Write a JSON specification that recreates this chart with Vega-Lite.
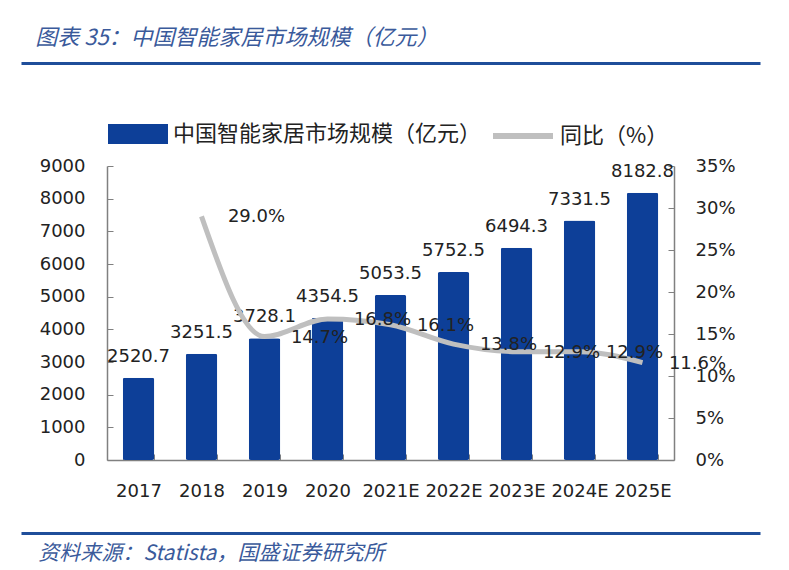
{
  "$schema": "https://vega.github.io/schema/vega-lite/v6.json",
  "background": "white",
  "padding": {"left": 18, "top": 27, "right": 0, "bottom": 6},
  "config": {"view": {"stroke": null}, "font": "DejaVu Sans"},
  "columns": 1,
  "align": "none",
  "bounds": "full",
  "spacing": 10,
  "resolve": {"scale": {"color": "independent", "stroke": "independent", "x": "independent"}, "legend": {"color": "independent", "stroke": "independent"}},
  "concat": [
    {
      "width": 739,
      "height": 30,
      "data": {"values": [{"v": 0}, {"v": 1}]},
      "mark": {"type": "point", "opacity": 0},
      "encoding": {
        "x": {"field": "v", "type": "quantitative", "axis": {"orient": "top", "domainColor": "#1F4E9A", "domainWidth": 3, "ticks": false, "labels": false, "grid": false, "title": null}}
      },
      "title": {"text": "图表 35：中国智能家居市场规模（亿元）", "anchor": "start", "dx": 17, "offset": 13, "font": "Noto Sans CJK SC", "fontSize": 22, "fontStyle": "italic", "fontWeight": "normal", "color": "#3A5A9B"}
    },
    {
      "spacing": 17,
      "resolve": {"scale": {"color": "independent", "stroke": "independent"}, "legend": {"color": "independent", "stroke": "independent"}},
      "hconcat": [
        {
          "width": 1,
          "height": 1,
          "data": {"values": []},
          "mark": "point"
        },
        {
          "width": 567,
          "height": 294,
          "data": {"values": [
            {"year": "2017", "size": 2520.7, "yoy": null},
            {"year": "2018", "size": 3251.5, "yoy": 0.290},
            {"year": "2019", "size": 3728.1, "yoy": 0.147},
            {"year": "2020", "size": 4354.5, "yoy": 0.168},
            {"year": "2021E", "size": 5053.5, "yoy": 0.161},
            {"year": "2022E", "size": 5752.5, "yoy": 0.138},
            {"year": "2023E", "size": 6494.3, "yoy": 0.129},
            {"year": "2024E", "size": 7331.5, "yoy": 0.129},
            {"year": "2025E", "size": 8182.8, "yoy": 0.116}
          ]},
          "encoding": {
            "x": {
              "field": "year", "type": "nominal", "sort": null,
              "scale": {"paddingInner": 0.5, "paddingOuter": 0.25},
              "axis": {"title": null, "labelAngle": 0, "tickBand": "extent", "tickSize": -6, "labelPadding": 28, "labelFontSize": 18, "labelColor": "#222222", "labelFont": "DejaVu Sans", "labelOverlap": false, "domainColor": "#808080", "tickColor": "#808080", "domainWidth": 1.5, "grid": false}
            }
          },
          "layer": [
            {
              "encoding": {
                "y": {"field": "size", "type": "quantitative", "scale": {"domain": [0, 9000]},
                  "axis": {"orient": "left", "title": null, "values": [0, 1000, 2000, 3000, 4000, 5000, 6000, 7000, 8000, 9000], "format": "d", "tickSize": -6, "labelPadding": 28, "labelFontSize": 18, "labelColor": "#222222", "labelFont": "DejaVu Sans", "labelOverlap": false, "domainColor": "#808080", "tickColor": "#808080", "domainWidth": 1.5, "grid": false}}
              },
              "layer": [
                {
                  "mark": {"type": "bar", "cornerRadius": 2},
                  "encoding": {
                    "color": {"datum": "中国智能家居市场规模（亿元）", "type": "nominal", "scale": {"range": ["#0D3F98"]},
                      "legend": {"title": null, "orient": "top", "offset": 18, "symbolType": "M-1,-0.33H1V0.33H-1Z", "symbolSize": 3600, "labelFont": "Noto Sans CJK SC", "labelFontSize": 22, "labelColor": "#222222", "labelOffset": 4, "labelLimit": 500}}
                  }
                },
                {
                  "mark": {"type": "text", "baseline": "middle", "dy": -21, "fontSize": 18, "font": "DejaVu Sans", "color": "#222222"},
                  "encoding": {
                    "text": {"field": "size", "type": "quantitative", "format": ".1f"}
                  }
                }
              ]
            },
            {
              "transform": [{"filter": "datum.yoy != null"}],
              "encoding": {
                "y": {"field": "yoy", "type": "quantitative", "scale": {"domain": [0, 0.35]},
                  "axis": {"orient": "right", "title": null, "values": [0, 0.05, 0.1, 0.15, 0.2, 0.25, 0.3, 0.35], "format": ".0%", "tickSize": -6, "labelPadding": 27, "labelFontSize": 18, "labelColor": "#222222", "labelFont": "DejaVu Sans", "labelOverlap": false, "domainColor": "#808080", "tickColor": "#808080", "domainWidth": 1.5, "grid": false}}
              },
              "layer": [
                {
                  "mark": {"type": "line", "interpolate": "monotone", "strokeWidth": 5},
                  "encoding": {
                    "stroke": {"datum": "同比（%）", "type": "nominal", "scale": {"range": ["#BFBFBF"]},
                      "legend": {"title": null, "orient": "top", "offset": 18, "symbolType": "stroke", "symbolSize": 3600, "symbolStrokeWidth": 6, "labelFont": "Noto Sans CJK SC", "labelFontSize": 22, "labelColor": "#222222", "labelOffset": 4, "labelLimit": 500}}
                  }
                },
                {
                  "mark": {"type": "text", "align": "center", "baseline": "middle", "dx": 55, "dy": 1, "fontSize": 18, "font": "DejaVu Sans", "color": "#222222"},
                  "encoding": {
                    "text": {"field": "yoy", "type": "quantitative", "format": ".1%"}
                  }
                }
              ]
            }
          ],
          "resolve": {"scale": {"y": "independent"}}
        }
      ]
    },
    {
      "width": 739,
      "height": 23,
      "data": {"values": [{"v": 0}, {"v": 1}]},
      "mark": {"type": "point", "opacity": 0},
      "encoding": {
        "x": {"field": "v", "type": "quantitative", "axis": {"orient": "bottom", "domainColor": "#1F4E9A", "domainWidth": 3, "ticks": false, "labels": false, "grid": false, "title": null}}
      },
      "title": {"text": "资料来源：Statista，国盛证券研究所", "orient": "bottom", "anchor": "start", "dx": 20, "offset": 10, "font": "Noto Sans CJK SC", "fontSize": 21, "fontStyle": "italic", "fontWeight": "normal", "color": "#3A5A9B"}
    }
  ]
}
